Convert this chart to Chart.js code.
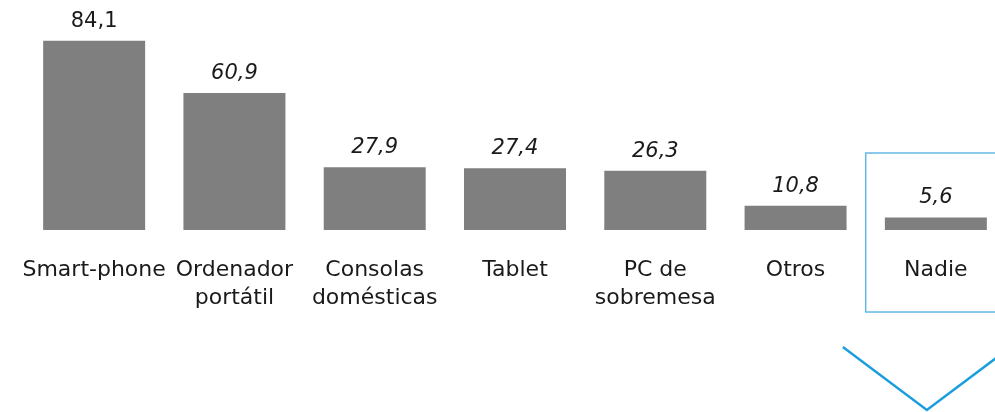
<!DOCTYPE html>
<html>
<head>
<meta charset="utf-8">
<script src="https://cdn.jsdelivr.net/npm/chart.js@4/dist/chart.umd.min.js"></script>
<style>
  html, body { margin: 0; padding: 0; background: #fff; overflow: hidden; }
  #wrap { width: 1010px; height: 412px; }
</style>
</head>
<body>
<div id="wrap"><canvas id="chart" width="1010" height="412"></canvas></div>
<script>
// datos
const categorias = [
  ["Smart-phone"],
  ["Ordenador", "portátil"],
  ["Consolas", "domésticas"],
  ["Tablet"],
  ["PC de", "sobremesa"],
  ["Otros"],
  ["Nadie"]
];
const valores = [84.1, 60.9, 27.9, 27.4, 26.3, 10.8, 5.6];
const etiquetasValor = ["84,1", "60,9", "27,9", "27,4", "26,3", "10,8", "5,6"];

const FONT = "'DejaVu Sans', sans-serif";
const AZUL_CAJA = "#63b8e6";
const AZUL_FLECHA = "#1b9fdc";

// etiquetas de valor + caja y flecha de "Nadie"
const extras = {
  id: "extras",
  afterDatasetsDraw(chart) {
    const ctx = chart.ctx;
    const meta = chart.getDatasetMeta(0);
    const x = chart.scales.x;
    const area = chart.chartArea;

    ctx.save();
    ctx.fillStyle = "#1a1a1a";
    ctx.textAlign = "center";
    ctx.textBaseline = "alphabetic";
    meta.data.forEach((bar, i) => {
      ctx.font = (i === 0 ? "" : "oblique ") + "21px " + FONT;
      ctx.fillText(etiquetasValor[i], bar.x, bar.y - 14);
    });

    // caja alrededor de la ultima categoria
    const last = valores.length - 1;
    const cx = x.getPixelForValue(last);
    const left = (x.getPixelForValue(last - 1) + cx) / 2;
    ctx.strokeStyle = AZUL_CAJA;
    ctx.lineWidth = 1.5;
    ctx.strokeRect(left, area.bottom - 77, 200, 159);

    // flecha (chevron)
    ctx.strokeStyle = AZUL_FLECHA;
    ctx.lineWidth = 2.5;
    ctx.beginPath();
    ctx.moveTo(cx - 93, area.bottom + 117);
    ctx.lineTo(cx - 9, area.bottom + 180);
    ctx.lineTo(cx + 75, area.bottom + 117);
    ctx.stroke();
    ctx.restore();
  }
};

new Chart(document.getElementById("chart"), {
  type: "bar",
  data: {
    labels: categorias,
    datasets: [{
      data: valores,
      backgroundColor: "#7f7f7f",
      borderWidth: 0,
      categoryPercentage: 0.727,
      barPercentage: 1
    }]
  },
  options: {
    responsive: false,
    animation: false,
    layout: { padding: { left: 24, right: 4, top: 5, bottom: 0 } },
    plugins: { legend: { display: false }, tooltip: { enabled: false } },
    scales: {
      x: {
        grid: { display: false, drawTicks: false },
        border: { display: false },
        ticks: {
          color: "#1a1a1a",
          font: { family: FONT, size: 22, lineHeight: "28px" },
          padding: 26,
          maxRotation: 0,
          autoSkip: false
        },
        afterFit(s) {
          s.height = 182;
          s.paddingLeft = 0;
          s.paddingRight = 0;
        }
      },
      y: { display: false, min: 0, max: 100 }
    }
  },
  plugins: [extras]
});
</script>
</body>
</html>
